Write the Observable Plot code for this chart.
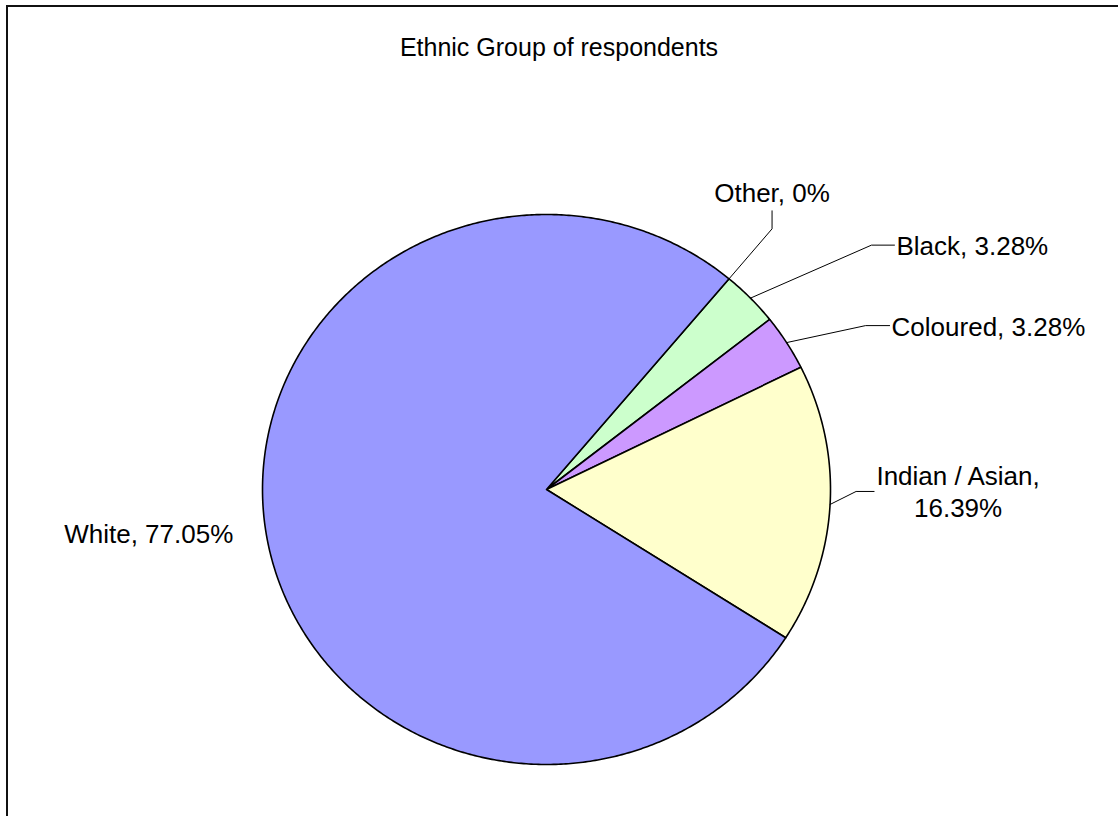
<!DOCTYPE html>
<html>
<head>
<meta charset="utf-8">
<script src="https://cdn.jsdelivr.net/npm/d3@7"></script>
<script src="https://cdn.jsdelivr.net/npm/@observablehq/plot@0.6"></script>
<style>
  html, body { margin: 0; padding: 0; background: #fff; overflow: hidden; }
  body { width: 1118px; height: 816px; position: relative; font-family: "Liberation Sans", Arial, sans-serif; }
  #frame { position: absolute; left: 6px; top: 5px; width: 1300px; height: 1000px; border: 2px solid #111; box-sizing: border-box; }
  #title { position: absolute; left: 0; top: 32px; width: 1118px; text-align: center; font-size: 25px; line-height: 30px; color: #000; }
  #chart { position: absolute; left: 0; top: 0; }
</style>
</head>
<body>
<div id="frame"></div>
<div id="chart"></div>
<div id="title">Ethnic Group of respondents</div>
<script>
// ---- data ----
const categories = ["Other", "Black", "Coloured", "Indian / Asian", "White"];
const values = [0, 3.28, 3.28, 16.39, 77.05];
const labels = ["Other, 0%", "Black, 3.28%", "Coloured, 3.28%", "Indian / Asian,\n16.39%", "White, 77.05%"];
const colors = ["#CCFFFF", "#CCFFCC", "#CC99FF", "#FFFFCC", "#9999FF"];

// ---- layout (pixels) ----
const W = 1118, H = 816, CX = 546, CY = 489, RX = 284, RY = 275;
const startAngle = 40; // degrees clockwise from 12 o'clock
// leader elbow / end / text offsets (px from slice's outer midpoint)
const leaderLayout = [
  {elbow: [43, -50], end: [43, -68], text: [43, -87], anchor: "middle"},
  {elbow: [121, -53], end: [144, -53], text: [146, -51], anchor: "start"},
  {elbow: [79, -17], end: [103, -17], text: [105, -15], anchor: "start"},
  {elbow: [26, -13], end: [44, -13], text: [128, -14], anchor: "middle"},
  {elbow: null, end: null, text: [-117, 2], anchor: "middle"}
];

const total = d3.sum(values);
const toRad = d => d * Math.PI / 180;
const pxToData = ([dx, dy]) => [dx / RX, -dy / RY];

const slicePts = [];
const leaderPts = [];
const labelRows = [];
let a0 = startAngle;
categories.forEach((name, i) => {
  const sweep = values[i] / total * 360;
  const a1 = a0 + sweep;
  if (sweep > 0) {
    slicePts.push({name, x: 0, y: 0});
    const n = Math.max(2, Math.ceil(sweep / 0.5));
    for (let k = 0; k <= n; k++) {
      const a = toRad(a0 + sweep * k / n);
      slicePts.push({name, x: Math.sin(a), y: Math.cos(a)});
    }
  }
  const mid = toRad(a0 + sweep / 2);
  const ax = Math.sin(mid), ay = Math.cos(mid);
  const L = leaderLayout[i];
  if (L.elbow) {
    const e = pxToData(L.elbow), f = pxToData(L.end);
    leaderPts.push({name, x: ax, y: ay});
    leaderPts.push({name, x: ax + e[0], y: ay + e[1]});
    leaderPts.push({name, x: ax + f[0], y: ay + f[1]});
  }
  const t = pxToData(L.text);
  labelRows.push({name, label: labels[i], x: ax + t[0], y: ay + t[1], anchor: L.anchor});
  a0 = a1;
});

const chart = Plot.plot({
  width: W,
  height: H,
  margin: 0,
  x: {domain: [-CX / RX, (W - CX) / RX], axis: null},
  y: {domain: [-(H - CY) / RY, CY / RY], axis: null},
  color: {domain: categories, range: colors},
  style: {background: "transparent", fontFamily: "'Liberation Sans', Arial, sans-serif"},
  marks: [
    Plot.line(slicePts, {x: "x", y: "y", z: "name", fill: "name", stroke: "#000", strokeWidth: 1.6, curve: "linear-closed"}),
    Plot.line(leaderPts, {x: "x", y: "y", z: "name", stroke: "#000", strokeWidth: 1}),
    Plot.text(labelRows.filter(d => d.anchor === "start"), {x: "x", y: "y", text: "label", textAnchor: "start", fontSize: 26, fill: "#000"}),
    Plot.text(labelRows.filter(d => d.anchor === "middle"), {x: "x", y: "y", text: "label", textAnchor: "middle", fontSize: 26, lineHeight: 1.24, fill: "#000"})
  ]
});
document.getElementById("chart").appendChild(chart);
</script>
</body>
</html>
